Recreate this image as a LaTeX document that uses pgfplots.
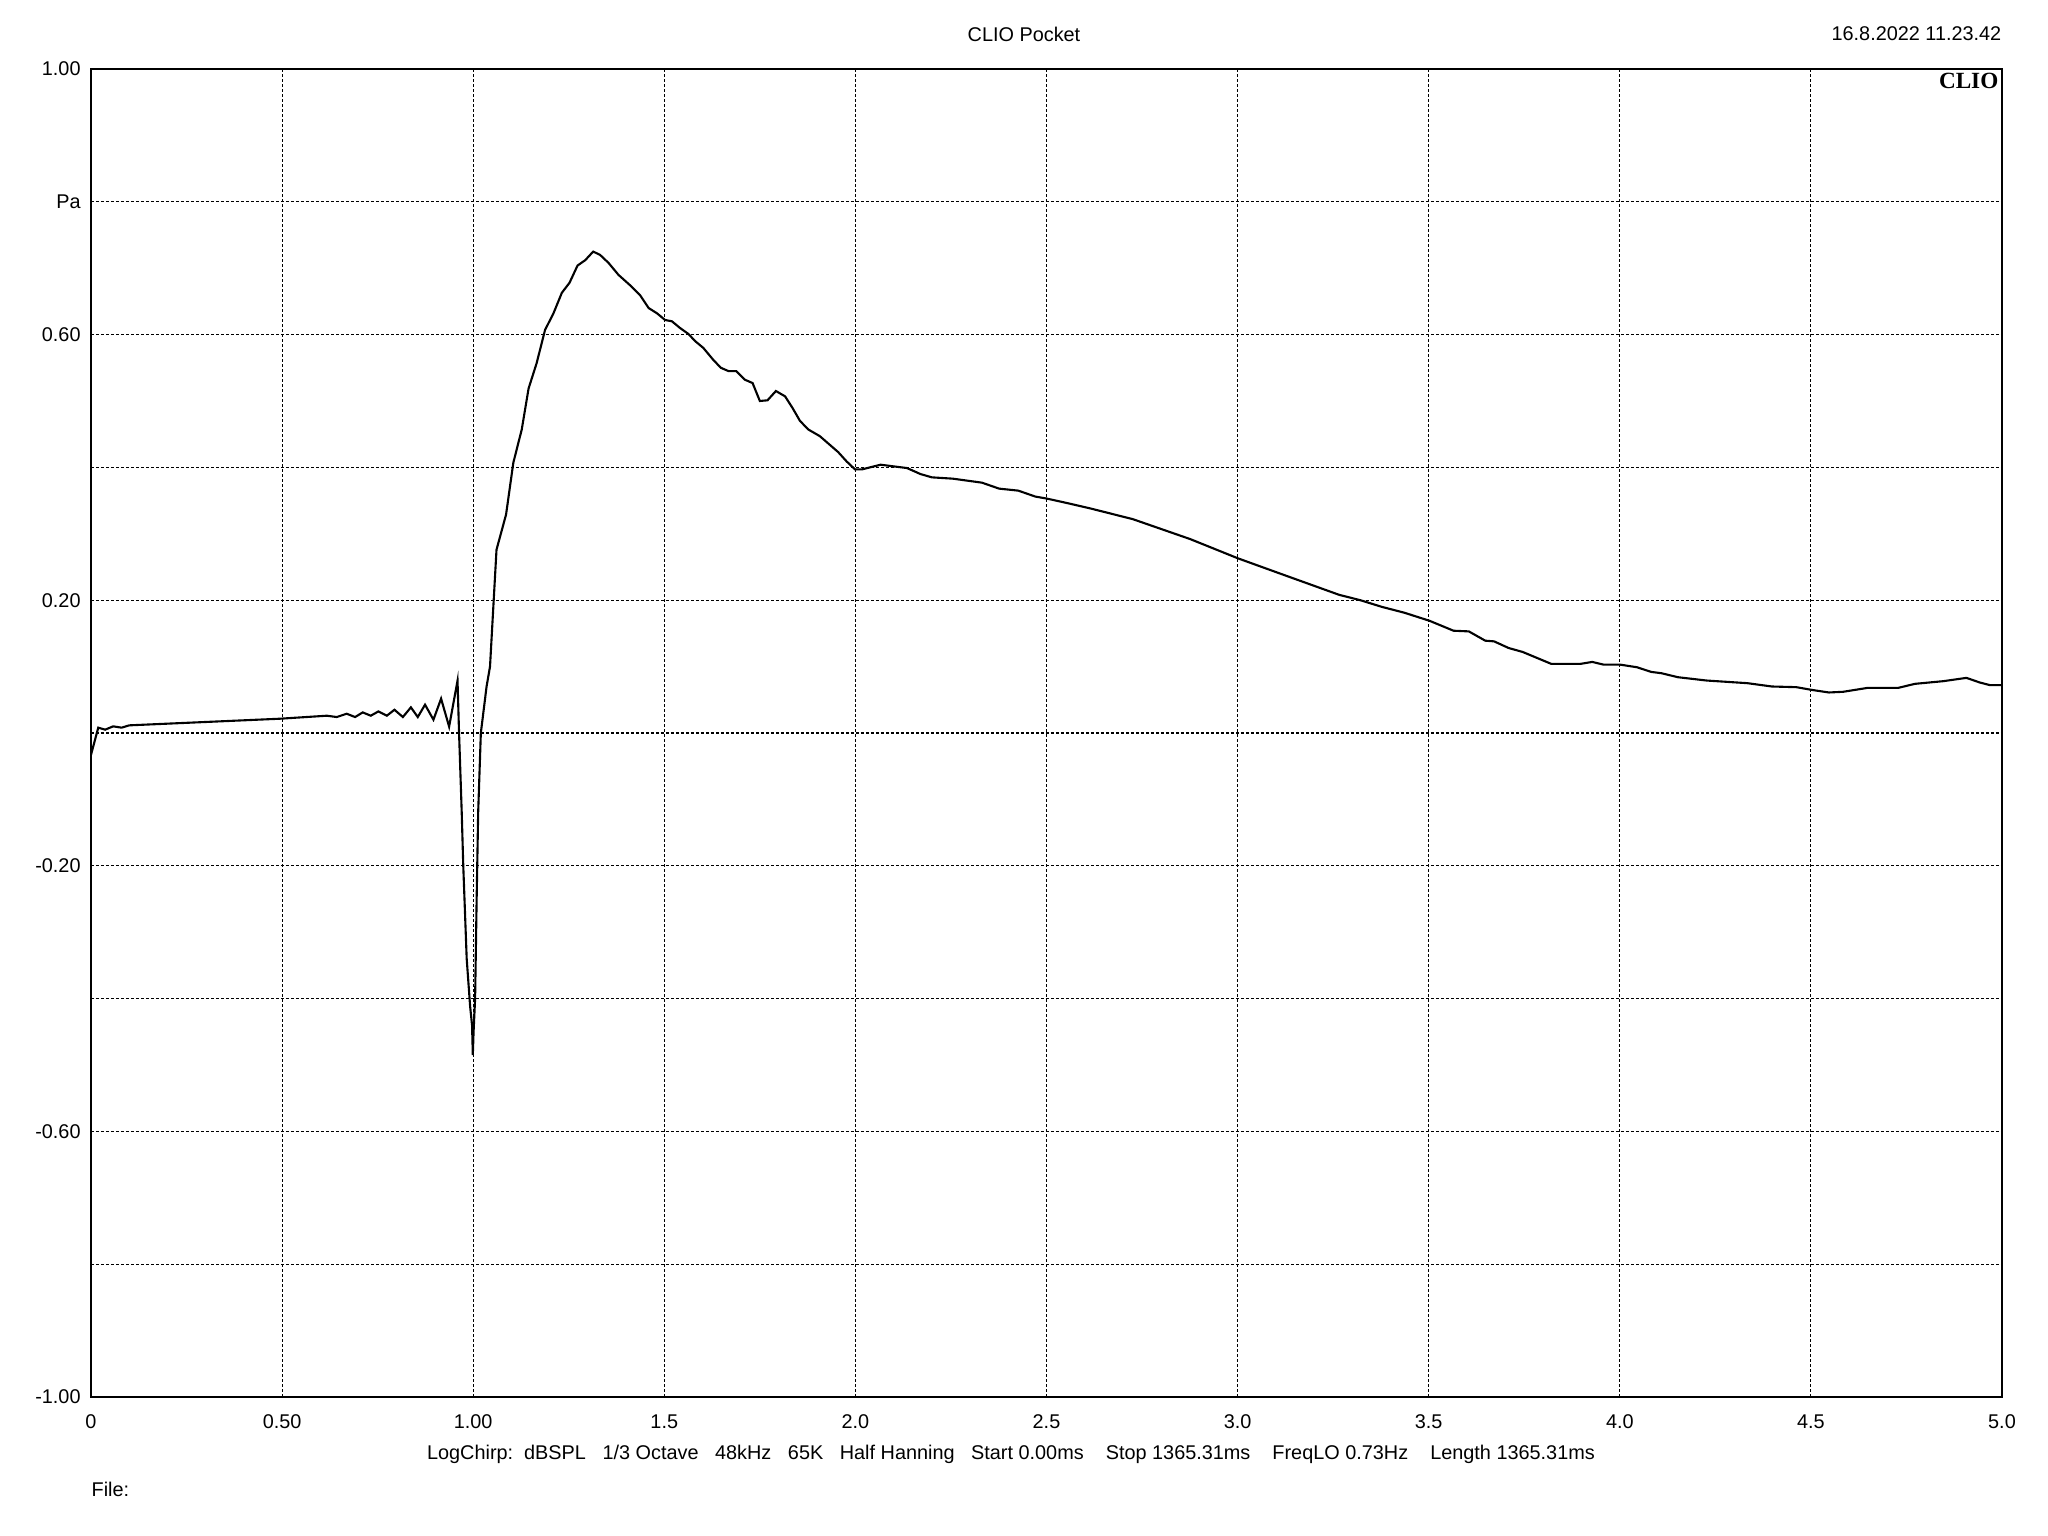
\documentclass[border=0pt]{standalone}
\usepackage{fontspec}
\setmainfont{Liberation Sans}
\newfontfamily\logofont{Liberation Serif}
\usepackage{pgfplots}
\pgfplotsset{compat=1.18}

\begin{document}
\begin{tikzpicture}[font=\fontsize{5.65}{6.7}\selectfont]
\path[use as bounding box] (0,0) rectangle (20.48cm,15.36cm);

\begin{axis}[
    at={(0.91cm,1.39cm)}, anchor=south west,
    width=19.11cm, height=13.28cm, scale only axis,
    xmin=0, xmax=5, ymin=-1, ymax=1,
    xtick={0,0.5,1,1.5,2,2.5,3,3.5,4,4.5,5},
    xticklabels={0,0.50,1.00,1.5,2.0,2.5,3.0,3.5,4.0,4.5,5.0},
    ytick={-1,-0.8,-0.6,-0.4,-0.2,0,0.2,0.4,0.6,0.8,1},
    yticklabels={-1.00,,-0.60,,-0.20,,0.20,,0.60,Pa,1.00},
    major tick length=0pt,
    grid=major,
    major grid style={black, line width=0.3pt, dash pattern=on 0.3mm off 0.2mm},
    axis line style={line width=0.7pt},
    xticklabel style={yshift=-0.5mm},
    yticklabel style={xshift=0.2mm},
]

% impulse response
\addplot[black, line width=0.6pt] coordinates {
(0,-0.033) (0.019,0.008) (0.037,0.005) (0.058,0.010) (0.080,0.008)
(0.100,0.0115) (0.495,0.0215) (0.617,0.026) (0.643,0.024) (0.669,0.029)
(0.691,0.024) (0.711,0.031) (0.732,0.026) (0.752,0.0325) (0.774,0.026)
(0.794,0.035) (0.816,0.024) (0.837,0.0386) (0.855,0.024) (0.874,0.0426)
(0.896,0.020) (0.916,0.0517) (0.937,0.0095) (0.959,0.0788) (0.963,0.0)
(0.970,-0.120) (0.974,-0.2) (0.983,-0.34) (0.992,-0.412) (0.997,-0.44)
(0.999,-0.485) (1.001,-0.45) (1.005,-0.40) (1.009,-0.251) (1.013,-0.12)
(1.020,0.0) (1.035,0.07) (1.044,0.10) (1.061,0.276) (1.086,0.329)
(1.105,0.407) (1.127,0.457) (1.145,0.519) (1.166,0.557) (1.188,0.607)
(1.210,0.632) (1.232,0.663) (1.252,0.678) (1.273,0.704) (1.293,0.712)
(1.314,0.725) (1.332,0.720) (1.354,0.708) (1.380,0.690) (1.411,0.674)
(1.437,0.659) (1.459,0.640) (1.481,0.632) (1.502,0.622) (1.520,0.620)
(1.541,0.610) (1.563,0.601) (1.581,0.590) (1.602,0.580) (1.628,0.562)
(1.648,0.550) (1.668,0.545) (1.688,0.545) (1.711,0.532) (1.731,0.527)
(1.750,0.500) (1.770,0.501) (1.792,0.515) (1.816,0.507) (1.836,0.489)
(1.855,0.470) (1.877,0.457) (1.907,0.447) (1.933,0.434) (1.955,0.423)
(1.977,0.409) (1.999,0.397) (2.017,0.397) (2.066,0.404) (2.135,0.399)
(2.170,0.390) (2.200,0.385) (2.255,0.383) (2.331,0.377) (2.376,0.368)
(2.426,0.365) (2.471,0.356) (2.501,0.353) (2.556,0.346) (2.616,0.338)
(2.726,0.322) (2.876,0.292) (3.001,0.263) (3.126,0.237) (3.266,0.208)
(3.321,0.200) (3.377,0.190) (3.437,0.181) (3.502,0.169) (3.565,0.154)
(3.605,0.153) (3.648,0.139) (3.671,0.138) (3.709,0.128) (3.746,0.122)
(3.821,0.104) (3.896,0.104) (3.928,0.107) (3.957,0.103) (4.000,0.103)
(4.045,0.099) (4.082,0.092) (4.109,0.090) (4.152,0.084) (4.227,0.079)
(4.334,0.075) (4.398,0.070) (4.462,0.069) (4.501,0.065) (4.547,0.061)
(4.584,0.062) (4.649,0.068) (4.729,0.068) (4.772,0.074) (4.846,0.078)
(4.907,0.083) (4.942,0.076) (4.969,0.072) (5.000,0.072)
};

\node[anchor=north, yshift=-0.5mm] at (axis cs:4.25,-1) {ms};
\node[anchor=north east, inner sep=0.3mm] at (axis cs:5,1)
    {\logofont\bfseries\fontsize{6.6}{7}\selectfont CLIO};
\end{axis}

\node at (10.24cm,15.02cm) {CLIO Pocket};
\node[anchor=east, inner sep=0pt] at (20.02cm,15.02cm) {16.8.2022 11.23.42};
\node at (10.11cm,0.82cm) {LogChirp:\ \ dBSPL\ \ \ 1/3 Octave\ \ \ 48kHz\ \ \ 65K\ \ \ Half Hanning\ \ \ Start 0.00ms\ \ \ \ Stop 1365.31ms\ \ \ \ FreqLO 0.73Hz\ \ \ \ Length 1365.31ms};
\node[anchor=west, inner sep=0pt] at (0.91cm,0.47cm) {File:};
\end{tikzpicture}
\end{document}
